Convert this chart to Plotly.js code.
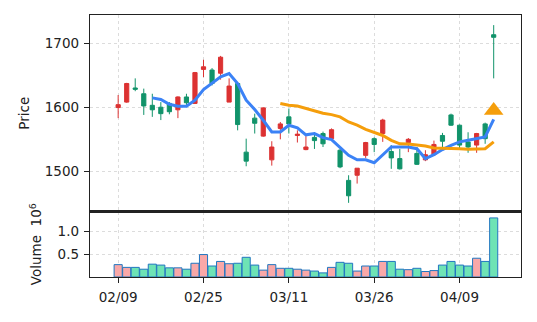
<!DOCTYPE html>
<html><head><meta charset="utf-8">
<script src="https://cdn.plot.ly/plotly-3.0.1.min.js"></script>
<style>html,body{margin:0;padding:0;background:#fff}#chart{width:537px;height:322px}</style>
</head><body><div id="chart"></div>
<script>
// Tick labels (trading-day index -> date label)
const tickIndex = [0, 10, 20, 30, 40];
const tickLabels = ['02/09', '02/25', '03/11', '03/26', '04/09'];

// OHLC
const openP  = [1599.5,1608,1630,1621,1603,1600,1606,1596,1616,1606,1659,1658,1653,1608,1637,1530,1583,1555,1518,1567,1585,1556,1534,1553,1559,1551,1533,1486,1494,1525,1551,1559,1531,1520,1545,1528,1518,1526,1556,1588,1572,1546,1541,1574,1713];
const highP  = [1619,1638,1645,1629,1621,1608,1608,1617,1621,1655,1674,1661,1680,1645,1638,1551,1590,1600,1547,1577,1598,1564,1555,1561,1562,1567,1535,1494,1505,1546,1553,1582,1541,1535,1552,1538,1533,1548,1560,1590,1573,1561,1560,1576,1728];
const lowP   = [1583,1607,1625,1588,1585,1580,1589,1583,1603,1605,1647,1634,1643,1608,1564,1508,1559,1554,1509,1550,1559,1545,1533,1535,1538,1549,1505,1451,1481,1521,1530,1546,1504,1503,1530,1510,1516,1526,1535,1571,1536,1529,1529,1543,1645];
const closeP = [1604,1637,1628,1602,1596,1590,1593,1616,1607,1654,1663,1637,1678,1633,1573,1516,1575,1599,1538,1574,1574,1558,1538,1548,1543,1565,1507,1462,1505,1545,1542,1580,1521,1504,1550,1511,1526,1542,1547,1572,1541,1538,1559,1551,1709];

// Volume (x 10^6)
const volume = [0.27,0.21,0.21,0.17,0.28,0.26,0.20,0.20,0.17,0.30,0.49,0.24,0.34,0.29,0.30,0.43,0.26,0.15,0.27,0.19,0.19,0.17,0.15,0.13,0.09,0.21,0.32,0.30,0.13,0.24,0.24,0.34,0.34,0.17,0.16,0.19,0.12,0.14,0.26,0.34,0.26,0.24,0.41,0.34,1.29];

// Moving averages
const ma5 = [null,null,null,null,1614.6,1612,1604.7,1601.6,1601.6,1611,1627.6,1637,1647.4,1652.6,1637,1611,1596.4,1579.7,1561.5,1561.5,1572,1568,1557,1559,1552.6,1549.5,1538,1525,1518,1518,1513.5,1526,1538,1538,1538,1535.4,1520,1526,1534,1540.6,1546,1548.4,1551,1553.6,1581];
const ma20 = [null,null,null,null,null,null,null,null,null,null,null,null,null,null,null,null,null,null,null,1605.7,1603,1602,1598,1594,1590.6,1588.5,1585,1577,1572,1565.6,1560.4,1556,1548.4,1543,1542.7,1541.7,1539.6,1536.5,1536.5,1536.5,1535.4,1534.4,1534.4,1535.4,1546];

// Signal marker
const signalIndex = [44];
const signalPrice = [1595];

const RED = '#dc3232', GREEN = '#11936a';
const xs = closeP.map((_, i) => i);
const volColors = closeP.map((c, i) => c >= openP[i] ? '#f9a8a8' : '#6ee3b5');

const traces = [
  {type: 'candlestick', x: xs, open: openP, high: highP, low: lowP, close: closeP,
   xaxis: 'x2', yaxis: 'y',
   increasing: {line: {color: RED, width: 1}, fillcolor: RED},
   decreasing: {line: {color: GREEN, width: 1}, fillcolor: GREEN},
   whiskerwidth: 0, hoverinfo: 'skip', showlegend: false},
  {type: 'scatter', mode: 'lines', x: xs, y: ma5, xaxis: 'x2', yaxis: 'y',
   line: {color: '#3b82f6', width: 3}, hoverinfo: 'skip', showlegend: false},
  {type: 'scatter', mode: 'lines', x: xs, y: ma20, xaxis: 'x2', yaxis: 'y',
   line: {color: '#f59e0b', width: 3}, hoverinfo: 'skip', showlegend: false},
  {type: 'scatter', mode: 'markers', x: signalIndex, y: signalPrice, xaxis: 'x2', yaxis: 'y',
   marker: {symbol: 'triangle-up', size: 17, color: '#f59e0b'}, hoverinfo: 'skip', showlegend: false},
  {type: 'bar', x: xs, y: volume, xaxis: 'x', yaxis: 'y2', width: 0.95,
   marker: {color: volColors, line: {color: '#2176c0', width: 1}}, hoverinfo: 'skip', showlegend: false}
];

const font = {family: 'DejaVu Sans', size: 13.5, color: '#222'};
const gridStyle = {showgrid: true, gridcolor: '#dcdcdc', griddash: 'dot', gridwidth: 1};
const layout = {
  width: 537, height: 322,
  margin: {l: 90, r: 16, t: 15, b: 45},
  paper_bgcolor: '#fff', plot_bgcolor: '#fff',
  font: font,
  showlegend: false,
  xaxis: Object.assign({anchor: 'y2', range: [-3.3, 47.2], tickvals: tickIndex, ticktext: tickLabels,
    ticks: 'outside', ticklen: 5, tickcolor: '#222', ticklabelstandoff: 3,
    showline: true, linecolor: '#222', linewidth: 1.2,
    mirror: true, zeroline: false, fixedrange: true}, gridStyle),
  xaxis2: Object.assign({anchor: 'y', matches: 'x', tickvals: tickIndex, showticklabels: false,
    showline: true, linecolor: '#222', linewidth: 1.2, mirror: true, zeroline: false,
    rangeslider: {visible: false}}, gridStyle),
  yaxis: Object.assign({domain: [0.25, 1], anchor: 'x2', range: [1437.5, 1743.75],
    tickvals: [1500, 1600, 1700], ticks: 'outside', ticklen: 5, tickcolor: '#222', ticklabelstandoff: 2,
    showline: true, linecolor: '#222', linewidth: 1.2, mirror: true, zeroline: false,
    title: {text: 'Price', font: font, standoff: 12}}, gridStyle),
  yaxis2: Object.assign({domain: [0, 0.25], anchor: 'x', range: [0, 1.43],
    tickvals: [0.5, 1.0], ticktext: ['0.5', '1.0'], ticks: 'outside', ticklen: 5, tickcolor: '#222', ticklabelstandoff: 2,
    showline: true, linecolor: '#222', linewidth: 1.2, mirror: true, zeroline: false,
    title: {text: 'Volume  10<sup>6</sup>', font: font, standoff: 12}}, gridStyle)
};

Plotly.newPlot('chart', traces, layout, {displayModeBar: false, staticPlot: true});
</script>
</body></html>
